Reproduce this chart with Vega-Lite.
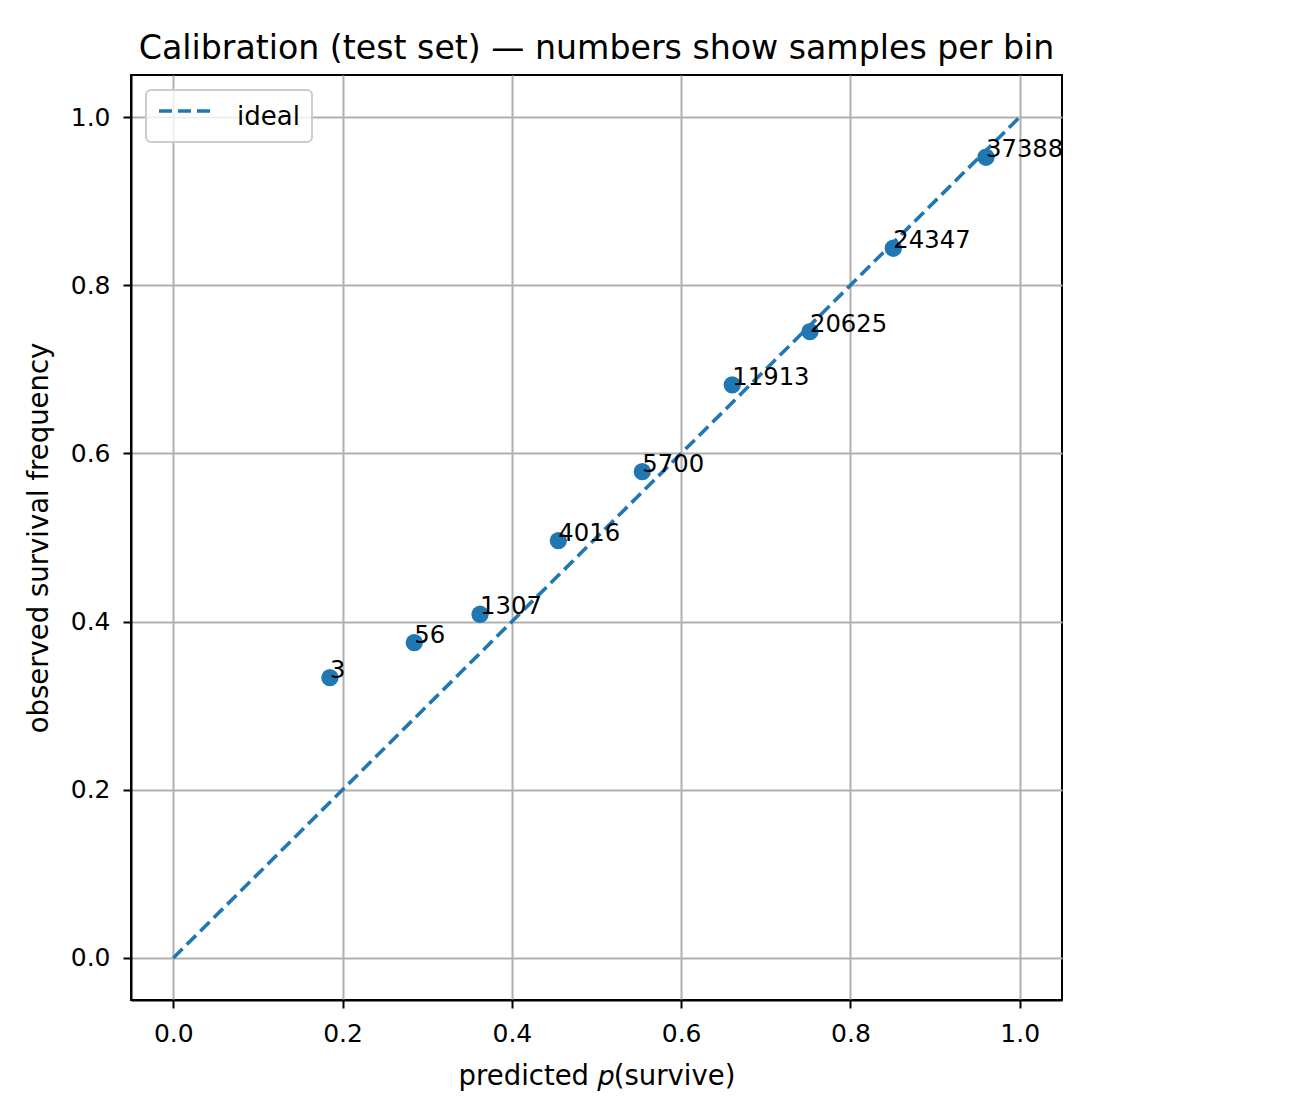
{
  "$schema": "https://vega.github.io/schema/vega-lite/v6.json",
  "autosize": {"type": "none"},
  "padding": {"left": 131, "top": 75, "right": 246, "bottom": 115},
  "width": 931,
  "height": 925,
  "background": "white",
  "title": {
    "text": "Calibration (test set) — numbers show samples per bin",
    "font": "DejaVu Sans",
    "fontSize": 33.2,
    "fontWeight": "normal",
    "color": "black",
    "anchor": "middle",
    "baseline": "alphabetic",
    "offset": 17,
    "dy": 34
  },
  "config": {
    "font": "DejaVu Sans",
    "view": {"stroke": "black", "strokeWidth": 2},
    "axis": {
      "grid": true,
      "gridColor": "#b0b0b0",
      "gridWidth": 2,
      "domainColor": "black",
      "domainWidth": 2,
      "tickColor": "black",
      "tickWidth": 2,
      "tickSize": 8,
      "labelFont": "DejaVu Sans",
      "labelFontSize": 25,
      "labelColor": "black",
      "titleFont": "DejaVu Sans",
      "titleFontSize": 27.5,
      "titleFontWeight": "normal",
      "titleColor": "black"
    },
    "legend": {
      "orient": "top-left",
      "offset": 15,
      "strokeColor": "#cccccc",
      "strokeWidth": 2,
      "fillColor": "rgba(255,255,255,0.8)",
      "cornerRadius": 5,
      "padding": 12,
      "symbolOffset": 14,
      "labelFont": "DejaVu Sans",
      "labelFontSize": 26,
      "labelColor": "black",
      "labelOffset": 35,
      "symbolType": "M-2.154,-0.46H2.154",
      "symbolSize": 676,
      "symbolStrokeWidth": 3.6,
      "symbolDash": [13, 6]
    }
  },
  "datasets": {
    "ideal": [
      {"p": 0, "f": 0, "series": "ideal"},
      {"p": 1, "f": 1, "series": "ideal"}
    ],
    "bins": [
      {"p": 0.185, "f": 0.3333, "n": 3},
      {"p": 0.2847, "f": 0.375, "n": 56},
      {"p": 0.3624, "f": 0.4087, "n": 1307},
      {"p": 0.4549, "f": 0.4963, "n": 4016},
      {"p": 0.5541, "f": 0.5783, "n": 5700},
      {"p": 0.6604, "f": 0.6814, "n": 11913},
      {"p": 0.7522, "f": 0.7448, "n": 20625},
      {"p": 0.8507, "f": 0.844, "n": 24347},
      {"p": 0.9602, "f": 0.9522, "n": 37388}
    ]
  },
  "encoding": {
    "x": {
      "field": "p",
      "type": "quantitative",
      "scale": {"domain": [-0.05, 1.05], "nice": false, "zero": false},
      "axis": {
        "values": [0, 0.2, 0.4, 0.6, 0.8, 1.0],
        "format": ".1f",
        "labelPadding": 13,
        "title": "predicted 𝑝(survive)",
        "titlePadding": 16
      }
    },
    "y": {
      "field": "f",
      "type": "quantitative",
      "scale": {"domain": [-0.05, 1.05], "nice": false, "zero": false},
      "axis": {
        "values": [0, 0.2, 0.4, 0.6, 0.8, 1.0],
        "format": ".1f",
        "labelPadding": 13,
        "title": "observed survival frequency",
        "titlePadding": 17
      }
    }
  },
  "layer": [
    {
      "data": {"name": "ideal"},
      "mark": {"type": "line", "strokeDash": [13, 6], "strokeWidth": 3.6},
      "encoding": {
        "stroke": {
          "field": "series",
          "type": "nominal",
          "scale": {"domain": ["ideal"], "range": ["#1f77b4"]},
          "legend": {"title": null}
        }
      }
    },
    {
      "data": {"name": "bins"},
      "mark": {"type": "circle", "size": 300, "color": "#1f77b4", "opacity": 1}
    },
    {
      "data": {"name": "bins"},
      "mark": {
        "type": "text",
        "align": "left",
        "baseline": "alphabetic",
        "font": "DejaVu Sans",
        "fontSize": 24.3,
        "color": "black"
      },
      "encoding": {"text": {"field": "n", "type": "nominal"}}
    }
  ]
}
